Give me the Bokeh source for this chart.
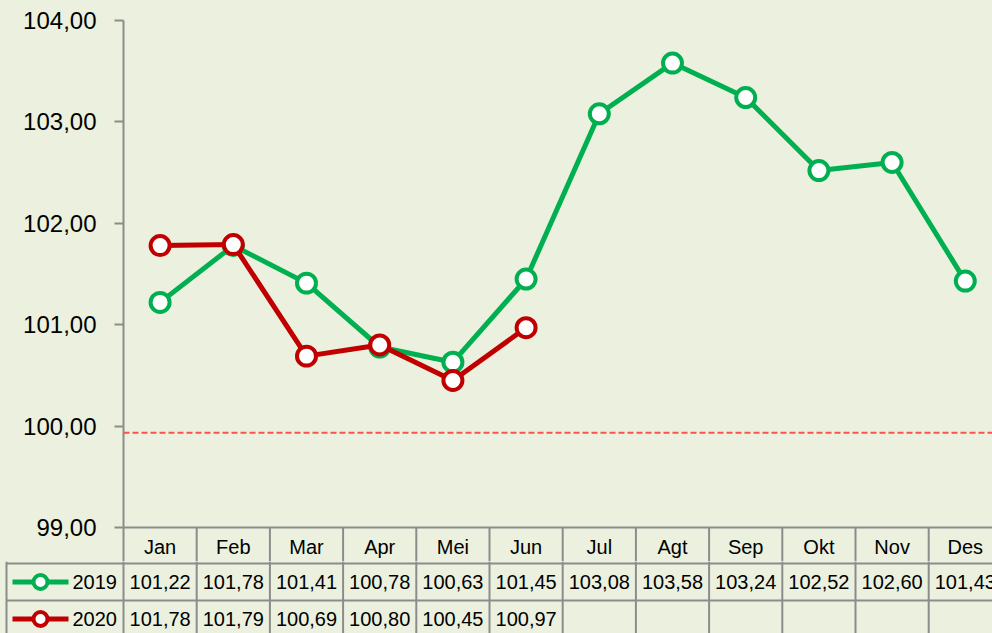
from bokeh.plotting import figure
from bokeh.layouts import column
from bokeh.models import Range1d, FixedTicker, LinearAxis, CustomJSTickFormatter, Span
from bokeh.embed import file_html
from bokeh.resources import INLINE
from bokeh.core.properties import value

# ---- data ----
months = ["Jan", "Feb", "Mar", "Apr", "Mei", "Jun", "Jul", "Agt", "Sep", "Okt", "Nov", "Des"]
v2019 = [101.22, 101.78, 101.41, 100.78, 100.63, 101.45, 103.08, 103.58, 103.24, 102.52, 102.60, 101.43]
v2020 = [101.78, 101.79, 100.69, 100.80, 100.45, 100.97]
series_names = ["2019", "2020"]
y_ticks = [99, 100, 101, 102, 103, 104]
ref_value = 99.935

# ---- style ----
BG = "#EBF1DE"
GRID = "#8C8C8C"
GREEN = "#00B050"
RED = "#C00000"
FONTNAME = "Liberation Sans"
FONT = value(FONTNAME)

W = 992
LEFT = 123
TOPB = 20
COLW = 73.2
PXU = 101.4
TOP_H = 561
BOT_H = 72
ROWH = 37.0

y_top = y_ticks[-1]
y_bot_axis = y_ticks[0]
x_end = (W - LEFT) / COLW
y_start = y_top - (TOP_H - TOPB) / PXU
hdr_mid = y_bot_axis - 19 / PXU


def fmt(v):
    return f"{v:.2f}".replace(".", ",")


p = figure(width=W, height=TOP_H, x_range=Range1d(0, x_end), y_range=Range1d(y_start, y_top),
           output_backend="svg", toolbar_location=None,
           min_border_left=LEFT, min_border_right=0, min_border_top=TOPB, min_border_bottom=0,
           background_fill_color=BG, border_fill_color=BG, outline_line_color=None,
           x_axis_type=None, y_axis_type=None, frame_align=False)

yaxis = LinearAxis(ticker=FixedTicker(ticks=y_ticks),
                   formatter=CustomJSTickFormatter(code="return tick.toFixed(2).replace('.', ',')"),
                   bounds=(y_start, y_top),
                   axis_line_color=GRID, axis_line_width=2,
                   major_tick_line_color=GRID, major_tick_line_width=2,
                   major_tick_out=9, major_tick_in=0,
                   minor_tick_line_color=None, major_label_standoff=18,
                   major_label_text_font=FONTNAME,
                   major_label_text_font_size="24px", major_label_text_color="black")
p.add_layout(yaxis, "left")

# reference dashed line
p.add_layout(Span(location=ref_value, dimension="width", line_color="#FF5050",
                  line_dash="6 3", line_width=2))

# table header row (inside top frame)
n = len(months)
p.segment(x0=[0], y0=[y_bot_axis], x1=[x_end], y1=[y_bot_axis], line_color=GRID, line_width=2)
p.segment(x0=list(range(1, n + 1)), y0=[y_bot_axis] * n, x1=list(range(1, n + 1)), y1=[y_start] * n,
          line_color=GRID, line_width=2)
xs = [i + 0.5 for i in range(n)]
p.text(x=xs, y=[hdr_mid] * n, text=months, text_align="center", text_baseline="middle",
       text_font=FONT, text_font_size="20px", text_color="black")

# series
p.line(xs, v2019, line_color=GREEN, line_width=5)
p.scatter(xs, v2019, size=19, marker="circle", fill_color="white", line_color=GREEN, line_width=4)
xs20 = xs[:len(v2020)]
p.line(xs20, v2020, line_color=RED, line_width=5)
p.scatter(xs20, v2020, size=19, marker="circle", fill_color="white", line_color=RED, line_width=4)

# ---- bottom table ----
xs0 = -LEFT / COLW
q = figure(width=W, height=BOT_H, x_range=Range1d(xs0, x_end),
           y_range=Range1d((BOT_H - 2) / ROWH, -2 / ROWH),
           output_backend="svg", toolbar_location=None,
           min_border_left=0, min_border_right=0, min_border_top=0, min_border_bottom=0,
           background_fill_color=BG, border_fill_color=BG, outline_line_color=None,
           x_axis_type=None, y_axis_type=None, frame_align=False)

legend_left = xs0 + 6 / COLW
q.segment(x0=[legend_left] * 3, y0=[0, 1, 2], x1=[x_end] * 3, y1=[0, 1, 2], line_color=GRID, line_width=2)
vx = [legend_left] + list(range(0, n + 1))
q.segment(x0=vx, y0=[-2 / ROWH] * len(vx), x1=vx, y1=[3] * len(vx), line_color=GRID, line_width=2)

colors = [GREEN, RED]
rows = [v2019, v2020]
for r, (name, vals, col) in enumerate(zip(series_names, rows, colors)):
    yc = r + 0.5
    q.line([xs0 + 12 / COLW, xs0 + 68 / COLW], [yc, yc], line_color=col, line_width=5)
    q.scatter([xs0 + 40 / COLW], [yc], size=14, marker="circle", fill_color="white",
              line_color=col, line_width=4)
    q.text(x=[xs0 + 72 / COLW], y=[yc], text=[name], text_align="left", text_baseline="middle",
           text_font=FONT, text_font_size="20px", text_color="black")
    q.text(x=xs[:len(vals)], y=[yc] * len(vals), text=[fmt(v) for v in vals],
           text_align="center", text_baseline="middle",
           text_font=FONT, text_font_size="20px", text_color="black")

layout = column(p, q, spacing=0)
html = file_html(layout, INLINE)
html = html.replace("<head>", "<head><style>body{background:#EBF1DE;}</style>", 1)
open("out.html", "w").write(html)
